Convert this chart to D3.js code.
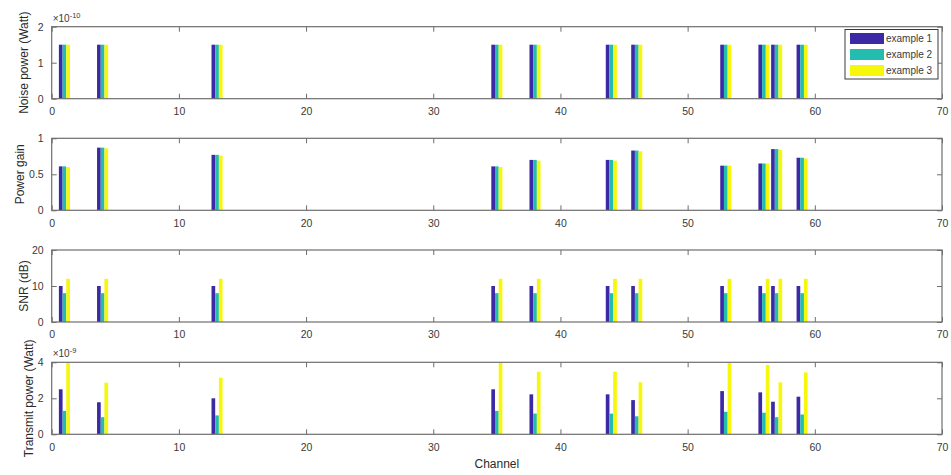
<!DOCTYPE html>
<html>
<head>
<meta charset="utf-8">
<script src="https://cdn.jsdelivr.net/npm/d3@7"></script>
<style>
  html, body { margin: 0; padding: 0; background: #fff; }
  svg { display: block; font-family: "Liberation Sans", Arial, Helvetica, sans-serif; }
</style>
</head>
<body>
<svg id="chart" width="951" height="475"></svg>
<script>
// Channels that carry a transmission
const channels = [1, 4, 13, 35, 38, 44, 46, 53, 56, 57, 59];

const seriesNames = ["example 1", "example 2", "example 3"];
const seriesColors = ["#3b29a6", "#25bcb0", "#f7f70c"];

// Noise power (x 1e-10 W)
const noise1 = [1.5, 1.5, 1.5, 1.5, 1.5, 1.5, 1.5, 1.5, 1.5, 1.5, 1.5];
const noise2 = [1.5, 1.5, 1.5, 1.5, 1.5, 1.5, 1.5, 1.5, 1.5, 1.5, 1.5];
const noise3 = [1.5, 1.5, 1.5, 1.5, 1.5, 1.5, 1.5, 1.5, 1.5, 1.5, 1.5];

// Power gain
const gain1 = [0.61, 0.87, 0.77, 0.61, 0.70, 0.70, 0.83, 0.62, 0.65, 0.85, 0.73];
const gain2 = [0.61, 0.87, 0.77, 0.61, 0.70, 0.70, 0.83, 0.62, 0.65, 0.85, 0.73];
const gain3 = [0.60, 0.86, 0.76, 0.60, 0.69, 0.69, 0.82, 0.62, 0.65, 0.84, 0.72];

// SNR (dB)
const snr1 = [10, 10, 10, 10, 10, 10, 10, 10, 10, 10, 10];
const snr2 = [8, 8, 8, 8, 8, 8, 8, 8, 8, 8, 8];
const snr3 = [12, 12, 12, 12, 12, 12, 12, 12, 12, 12, 12];

// Transmit power (x 1e-9 W)
const tx1 = [2.5, 1.78, 2.0, 2.5, 2.22, 2.22, 1.9, 2.4, 2.33, 1.81, 2.09];
const tx2 = [1.3, 0.95, 1.05, 1.3, 1.15, 1.15, 1.0, 1.25, 1.2, 0.95, 1.1];
const tx3 = [3.98, 2.87, 3.14, 3.98, 3.48, 3.48, 2.89, 3.96, 3.85, 2.89, 3.44];

// Axis ticks
const xTicks = [0, 10, 20, 30, 40, 50, 60, 70];
const noiseTicks = [0, 1, 2];
const gainTicks = [0, 0.5, 1];
const snrTicks = [0, 10, 20];
const txTicks = [0, 2, 4];

const panels = [
  { label: "Noise power (Watt)", series: [noise1, noise2, noise3], domain: [0, 2], ticks: noiseTicks, exponent: "-10", labelX: 24 },
  { label: "Power gain", series: [gain1, gain2, gain3], domain: [0, 1], ticks: gainTicks, exponent: null, labelX: 20 },
  { label: "SNR (dB)", series: [snr1, snr2, snr3], domain: [0, 20], ticks: snrTicks, exponent: null, labelX: 24 },
  { label: "Transmit power (Watt)", series: [tx1, tx2, tx3], domain: [0, 4], ticks: txTicks, exponent: "-9", labelX: 29 }
];

const svg = d3.select("#chart");
const left = 51.7, right = 942;
const panelTops = [26.7, 138.3, 250, 362.3];
const panelH = 72;
const frameColor = "#6e6e6e";
const textColor = "#3a3a3a";

const x = d3.scaleLinear().domain([0, 70]).range([left, right]);
const barW = 0.29;               // width of a single bar in channel units
const offsets = [-barW, 0, barW]; // position of each series within a group

panels.forEach((p, pi) => {
  const top = panelTops[pi];
  const bottom = top + panelH;
  const y = d3.scaleLinear().domain(p.domain).range([bottom, top]);
  const g = svg.append("g");

  const clipId = "clip" + pi;
  g.append("clipPath").attr("id", clipId)
    .append("rect").attr("x", left).attr("y", top).attr("width", right - left).attr("height", panelH);

  // bars
  const bars = g.append("g").attr("clip-path", `url(#${clipId})`);
  p.series.forEach((vals, si) => {
    bars.selectAll(null)
      .data(channels.map((c, i) => ({ c, v: vals[i] })))
      .join("rect")
      .attr("x", d => x(d.c + offsets[si] - barW / 2))
      .attr("width", x(barW) - x(0))
      .attr("y", d => y(d.v))
      .attr("height", d => y(0) - y(d.v))
      .attr("fill", seriesColors[si]);
  });

  // bottom axis with ticks pointing inward
  const xAxis = d3.axisBottom(x).tickValues(xTicks).tickFormat(d3.format("d")).tickSizeInner(-5).tickSizeOuter(0).tickPadding(9);
  const gx = g.append("g").attr("transform", `translate(0,${bottom})`).call(xAxis);
  // top ticks
  const gxt = g.append("g").attr("transform", `translate(0,${top})`)
    .call(d3.axisTop(x).tickValues(xTicks).tickFormat("").tickSizeInner(-5).tickSizeOuter(0));

  const yAxis = d3.axisLeft(y).tickValues(p.ticks).tickFormat(d => String(d)).tickSizeInner(-5).tickSizeOuter(0).tickPadding(8);
  const gy = g.append("g").attr("transform", `translate(${left},0)`).call(yAxis);
  const gyr = g.append("g").attr("transform", `translate(${right},0)`)
    .call(d3.axisRight(y).tickValues(p.ticks).tickFormat("").tickSizeInner(-5).tickSizeOuter(0));

  [gx, gxt, gy, gyr].forEach(a => {
    a.select(".domain").remove();
    a.selectAll(".tick line").attr("stroke", frameColor);
    a.selectAll(".tick text").attr("fill", textColor).attr("font-size", 10.5)
      .attr("font-family", "Liberation Sans, Arial, sans-serif");
  });

  // axes frame
  g.append("rect").attr("x", left).attr("y", top).attr("width", right - left).attr("height", panelH)
    .attr("fill", "none").attr("stroke", frameColor).attr("stroke-width", 1.2);

  // y label
  g.append("text")
    .attr("transform", `translate(${p.labelX},${top + panelH / 2}) rotate(-90)`)
    .attr("text-anchor", "middle").attr("dominant-baseline", "central")
    .attr("font-size", 12).attr("fill", "#2a2a2a")
    .text(p.label);

  // exponent multiplier
  if (p.exponent) {
    const t = g.append("text").attr("x", left + 1).attr("y", top - 5)
      .attr("font-size", 10).attr("fill", textColor);
    t.append("tspan").text("\u00d710");
    t.append("tspan").attr("dy", -4).attr("font-size", 7.5).text(p.exponent);
  }
});

// x axis title
svg.append("text").attr("x", (left + right) / 2).attr("y", 468)
  .attr("text-anchor", "middle").attr("font-size", 12).attr("fill", "#2a2a2a")
  .text("Channel");

// legend
const lg = svg.append("g");
lg.append("rect").attr("x", 845).attr("y", 29.5).attr("width", 93).attr("height", 49.5)
  .attr("fill", "#fff").attr("stroke", "#3a3a3a").attr("stroke-width", 1);
seriesNames.forEach((name, i) => {
  const ry = 33 + i * 16;
  lg.append("rect").attr("x", 850).attr("y", ry).attr("width", 34).attr("height", 11)
    .attr("fill", seriesColors[i]);
  lg.append("text").attr("x", 886).attr("y", ry + 5.5).attr("dominant-baseline", "central")
    .attr("font-size", 10).attr("fill", textColor).text(name);
});
</script>
</body>
</html>
